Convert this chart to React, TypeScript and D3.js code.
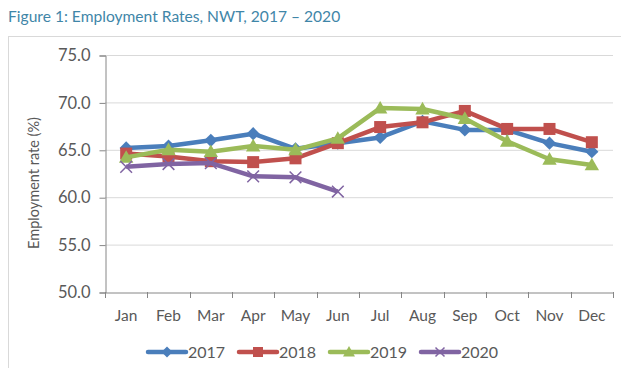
import React, { useEffect, useRef } from 'react';
import * as d3 from 'd3';

const months = ['Jan', 'Feb', 'Mar', 'Apr', 'May', 'Jun', 'Jul', 'Aug', 'Sep', 'Oct', 'Nov', 'Dec'];
const rates2017 = [65.2, 65.4, 66.0, 66.7, 65.1, 65.7, 66.3, 68.0, 67.1, 67.1, 65.7, 64.8];
const rates2018 = [64.6, 64.3, 63.8, 63.7, 64.1, 65.7, 67.4, 67.9, 69.1, 67.2, 67.2, 65.8];
const rates2019 = [64.2, 65.0, 64.8, 65.4, 65.0, 66.2, 69.4, 69.3, 68.3, 65.9, 64.0, 63.4];
const rates2020 = [63.2, 63.5, 63.6, 62.2, 62.1, 60.6];
const yTicks = [50, 55, 60, 65, 70, 75];

const series = [
    { name: '2017', values: rates2017, color: '#4A7EBB', marker: 'diamond' },
    { name: '2018', values: rates2018, color: '#C0504D', marker: 'square' },
    { name: '2019', values: rates2019, color: '#9BBB59', marker: 'triangle' },
    { name: '2020', values: rates2020, color: '#8064A2', marker: 'cross' },
];

const font = 'Lato, sans-serif';

// draw one marker of the given type at (x, y)
const drawMarker = (g, type, x, y, color, size) => {
    if (type === 'diamond') {
        const s = size * 0.55;
        g.append('path')
            .attr('d', `M${x},${y - s}L${x + s},${y}L${x},${y + s}L${x - s},${y}Z`)
            .attr('fill', color);
    } else if (type === 'square') {
        const s = size * 0.5;
        g.append('rect')
            .attr('x', x - s).attr('y', y - s)
            .attr('width', s * 2).attr('height', s * 2)
            .attr('fill', color);
    } else if (type === 'triangle') {
        const s = size * 0.6;
        g.append('path')
            .attr('d', `M${x},${y - s}L${x + s},${y + s * 0.75}L${x - s},${y + s * 0.75}Z`)
            .attr('fill', color);
    } else {
        const s = size * 0.45;
        g.append('path')
            .attr('d', `M${x - s},${y - s}L${x + s},${y + s}M${x - s},${y + s}L${x + s},${y - s}`)
            .attr('stroke', color)
            .attr('stroke-width', 1.5);
    }
};

const App = () => {
    const ref = useRef(null);

    useEffect(() => {
        const svg = d3.select(ref.current);
        svg.selectAll('*').remove();

        const left = 105;
        const right = 613;
        const top = 55;
        const bottom = 292;

        const x = d3.scaleBand().domain(months).range([left, right]);
        const y = d3.scaleLinear().domain([50, 75]).range([bottom, top]);

        // title
        svg.append('text')
            .attr('x', 8)
            .attr('y', 22)
            .attr('font-family', font)
            .attr('font-size', 15.6)
            .attr('fill', '#3F86A8')
            .text('Figure 1: Employment Rates, NWT, 2017 \u2013 2020');

        // chart frame
        svg.append('rect')
            .attr('x', 8.5).attr('y', 36.5)
            .attr('width', 640).attr('height', 360)
            .attr('fill', 'none')
            .attr('stroke', '#D9D9D9');

        // gridlines
        svg.append('g')
            .selectAll('line')
            .data(yTicks.filter((d) => d > 50))
            .enter()
            .append('line')
            .attr('x1', left).attr('x2', right)
            .attr('y1', (d) => y(d) + 0.5).attr('y2', (d) => y(d) + 0.5)
            .attr('stroke', '#D9D9D9');

        // y axis
        const yAxis = svg.append('g')
            .attr('transform', `translate(${left + 0.5},0.5)`)
            .call(d3.axisLeft(y).tickValues(yTicks).tickFormat(d3.format('.1f')).tickSize(6).tickPadding(9));
        yAxis.select('.domain').attr('stroke', '#868686');
        yAxis.selectAll('.tick line').attr('stroke', '#868686');
        yAxis.selectAll('text')
            .attr('font-family', font).attr('font-size', 16.5).attr('fill', '#595959');

        // x axis
        const xAxis = svg.append('g')
            .attr('transform', `translate(0,${bottom + 0.5})`)
            .call(d3.axisBottom(x).tickSize(0).tickPadding(17));
        xAxis.select('.domain').attr('stroke', '#868686');
        xAxis.selectAll('text')
            .attr('font-family', font).attr('font-size', 15.5).attr('fill', '#595959');
        // tick marks at category boundaries
        svg.append('g')
            .selectAll('line')
            .data(d3.range(months.length + 1))
            .enter()
            .append('line')
            .attr('x1', (i) => Math.round(left + i * x.step()) + 0.5)
            .attr('x2', (i) => Math.round(left + i * x.step()) + 0.5)
            .attr('y1', bottom).attr('y2', bottom + 6)
            .attr('stroke', '#868686');

        // y axis title
        svg.append('text')
            .attr('transform', `translate(39,183) rotate(-90)`)
            .attr('text-anchor', 'middle')
            .attr('font-family', font)
            .attr('font-size', 14.5)
            .attr('fill', '#595959')
            .text('Employment rate (%)');

        const cx = (i) => x(months[i]) + x.bandwidth() / 2;
        const line = d3.line().x((d, i) => cx(i)).y((d) => y(d));

        series.forEach((s) => {
            const g = svg.append('g');
            g.append('path')
                .datum(s.values)
                .attr('d', line)
                .attr('fill', 'none')
                .attr('stroke', s.color)
                .attr('stroke-width', 4.5)
                .attr('stroke-linejoin', 'round');
            s.values.forEach((v, i) => drawMarker(g, s.marker, cx(i), y(v), s.color, s.marker === 'cross' ? 13 : 12));
        });

        // legend
        const legendX = [148, 239, 330, 421];
        const legendY = 352;
        series.forEach((s, i) => {
            const g = svg.append('g');
            g.append('line')
                .attr('x1', legendX[i]).attr('x2', legendX[i] + 38)
                .attr('y1', legendY).attr('y2', legendY)
                .attr('stroke', s.color)
                .attr('stroke-width', 4.5)
                .attr('stroke-linecap', 'round');
            drawMarker(g, s.marker, legendX[i] + 19, legendY, s.color, 10);
            g.append('text')
                .attr('x', legendX[i] + 40)
                .attr('y', legendY + 6)
                .attr('font-family', font)
                .attr('font-size', 16)
                .attr('fill', '#595959')
                .text(s.name);
        });
    }, []);

    return (
        <svg ref={ref} width={621} height={368} style={{ position: 'absolute', left: 0, top: 0, background: '#fff' }} />
    );
};

export default App;
